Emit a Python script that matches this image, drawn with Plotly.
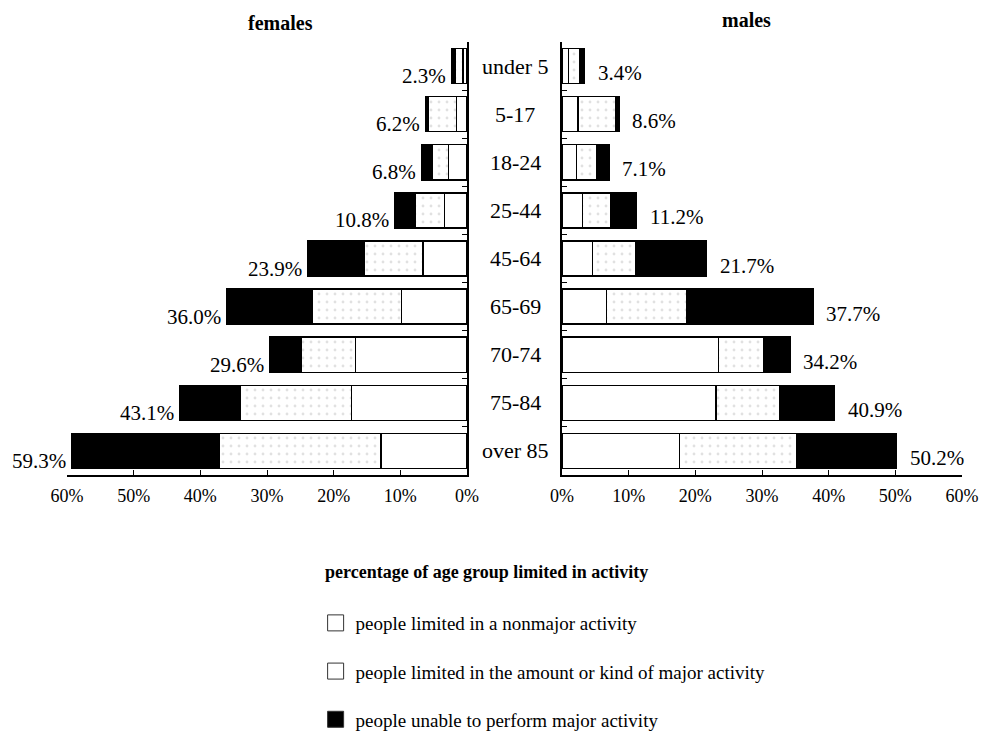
import plotly.graph_objects as go

# ------------------------------------------------------------
# Data (% of age group)
# ------------------------------------------------------------
categories = ["under 5", "5-17", "18-24", "25-44", "45-64",
              "65-69", "70-74", "75-84", "over 85"]

fem_nonmajor = [0.6, 1.6, 2.8, 3.4, 6.6, 9.8, 16.7, 17.3, 12.9]
fem_amount = [1.2, 4.2, 2.4, 4.3, 8.8, 13.4, 8.1, 16.7, 24.2]
fem_unable = [0.5, 0.4, 1.6, 3.1, 8.5, 12.8, 4.8, 9.1, 22.2]
fem_total = [2.3, 6.2, 6.8, 10.8, 23.9, 36.0, 29.6, 43.1, 59.3]

male_nonmajor = [1.0, 2.4, 2.2, 3.1, 4.6, 6.7, 23.5, 23.1, 17.6]
male_amount = [1.7, 5.6, 3.0, 4.2, 6.5, 12.0, 6.7, 9.5, 17.6]
male_unable = [0.7, 0.6, 1.9, 3.9, 10.6, 19.0, 4.0, 8.3, 15.0]
male_total = [3.4, 8.6, 7.1, 11.2, 21.7, 37.7, 34.2, 40.9, 50.2]

tick_vals = [0, 10, 20, 30, 40, 50, 60]
tick_text = ["0%", "10%", "20%", "30%", "40%", "50%", "60%"]

series_names = [
    "people limited in a nonmajor activity",
    "people limited in the amount or kind of major activity",
    "people unable to perform major activity",
]

FONT = "Liberation Serif"

# fill styles for the three segments
styles = [
    dict(color="white", pattern=None),
    dict(color="white", pattern=dict(shape=".", fgcolor="#c4c4c4", bgcolor="white",
                                     size=8, solidity=0.1)),
    dict(color="black", pattern=None),
]

fig = go.Figure()


def add_side(values, xaxis, yaxis):
    for i, (vals, name, st) in enumerate(zip(values, series_names, styles)):
        marker = dict(color=st["color"], line=dict(color="black", width=1.5))
        if st["pattern"]:
            marker["pattern"] = st["pattern"]
        fig.add_trace(go.Bar(
            x=vals,
            y=categories,
            orientation="h",
            name=name,
            marker=marker,
            xaxis=xaxis,
            yaxis=yaxis,
            showlegend=False,
            legendgroup=f"g{i}",
            hoverinfo="x+y",
        ))


add_side([fem_nonmajor, fem_amount, fem_unable], "x", "y")
add_side([male_nonmajor, male_amount, male_unable], "x2", "y2")

# legend entries (square swatches like the original key)
for i, (name, st) in enumerate(zip(series_names, styles)):
    fig.add_trace(go.Scatter(
        x=[None], y=[None], mode="markers", name=name,
        marker=dict(symbol="square", size=16, color=st["color"],
                    line=dict(color="#333333", width=1)),
        legendgroup=f"g{i}", showlegend=True, hoverinfo="skip",
    ))

# total labels
for cat, tot in zip(categories, fem_total):
    fig.add_annotation(x=tot, y=cat, xref="x", yref="y", text=f"{tot:.1f}%",
                       showarrow=False, xanchor="right", yanchor="middle",
                       xshift=-4, yshift=-10,
                       font=dict(size=21, family=FONT, color="black"))
for cat, tot in zip(categories, male_total):
    fig.add_annotation(x=tot, y=cat, xref="x2", yref="y2", text=f"{tot:.1f}%",
                       showarrow=False, xanchor="left", yanchor="middle",
                       xshift=11, yshift=-7,
                       font=dict(size=21, family=FONT, color="black"))

# age group labels in the middle
for cat in categories:
    fig.add_annotation(x=0.506, y=cat, xref="paper", yref="y", text=cat,
                       showarrow=False, xanchor="center", yanchor="middle",
                       font=dict(size=22, family=FONT, color="black"))

# headings
fig.add_annotation(x=0.2715, y=1.044, xref="paper", yref="paper", text="<b>females</b>",
                   showarrow=False, xanchor="center", yanchor="middle",
                   font=dict(size=20, family=FONT, color="black"))
fig.add_annotation(x=0.7375, y=1.051, xref="paper", yref="paper", text="<b>males</b>",
                   showarrow=False, xanchor="center", yanchor="middle",
                   font=dict(size=20, family=FONT, color="black"))
fig.add_annotation(x=0.478, y=-0.224, xref="paper", yref="paper",
                   text="<b>percentage of age group limited in activity</b>",
                   showarrow=False, xanchor="center", yanchor="middle",
                   font=dict(size=18, family=FONT, color="black"))

axis_common = dict(
    showgrid=False, zeroline=False, showline=True, linecolor="black", linewidth=1.5,
    ticks="inside", ticklen=5, tickcolor="black", tickwidth=1.2,
    tickfont=dict(size=18, family=FONT, color="black"),
)

fig.update_layout(
    width=1002,
    height=733,
    margin=dict(l=0, r=0, t=34, b=266, autoexpand=False),
    barmode="stack",
    bargap=0.27,
    paper_bgcolor="white",
    plot_bgcolor="white",
    font=dict(family=FONT, color="black"),
    xaxis=dict(domain=[0.0589, 0.4581], range=[60, 0], tickvals=tick_vals,
               ticktext=tick_text, anchor="y", ticklabelstandoff=4, **axis_common),
    xaxis2=dict(domain=[0.5529, 0.9521], range=[0, 60], tickvals=tick_vals,
                ticktext=tick_text, anchor="y2", ticklabelstandoff=4, **axis_common),
    yaxis=dict(anchor="x", side="right", autorange="reversed", tickson="boundaries",
               showticklabels=False, domain=[0, 1], **axis_common),
    yaxis2=dict(anchor="x2", side="left", autorange="reversed", tickson="boundaries",
                showticklabels=False, domain=[0, 1], **axis_common),
    legend=dict(
        x=0.307, y=-0.298, xanchor="left", yanchor="top",
        traceorder="grouped", tracegroupgap=20.5,
        font=dict(size=19, family=FONT, color="black"),
        bgcolor="rgba(0,0,0,0)",
    ),
)

fig.write_html("out.html")
